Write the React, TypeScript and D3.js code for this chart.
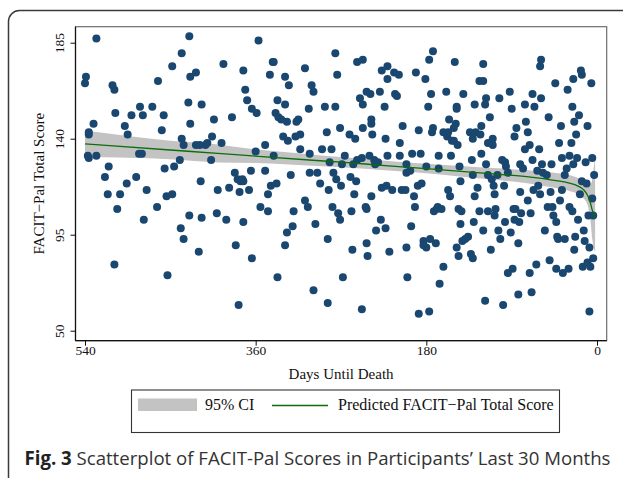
import React, { useEffect, useRef } from 'react';
import * as d3 from 'd3';

const width = 623;
const height = 478;
const plot = { left: 75.5, top: 26.7, right: 606.7, bottom: 340.7 };

const serif = '"Liberation Serif", "Times New Roman", serif';

const xTicks = [540, 360, 180, 0];
const yTicks = [50, 95, 140, 185];

// [days until death, FACIT-Pal total score]
const participants: [number, number][] = [
  [540,166],[539,169],[536,142],[536,143],[537,132],[536,131],[531,147],[528,187],[528,132],[519,122],
  [516,114],[515,127],[511,165],[509,163],[508,152],[509,81],[506,107],[503,114],[498,146],[495,142],
  [496,119],[491,151],[486,122],[483,133],[482,155],[480,133],[479,151],[478,102],[475,116],[469,155],
  [464,108],[463,167],[459,144],[457,151],[456,126],[454,113],[453,76],[448,114],[448,174],[446,127],
  [440,130],[439,98],[438,180],[438,140],[436,137],[436,93],[431,157],[430,188],[429,169],[430,104],
  [429,147],[423,171],[423,137],[420,87],[419,137],[418,120],[417,103],[417,156],[413,137],[411,138],
  [407,130],[406,141],[404,149],[400,116],[401,105],[396,138],[394,175],[391,102],[388,117],[385,150],
  [382,124],[381,90],[379,121],[378,62],[377,115],[376,120],[374,121],[373,172],[373,120],[373,101],
  [371,163],[369,158],[367,116],[365,125],[364,84],[364,154],[359,152],[357,186],[360,134],[355,108],
  [350,137],[350,125],[347,114],[347,106],[345,170],[344,118],[342,176],[341,176],[341,132],[339,152],
  [338,119],[337,75],[337,158],[336,150],[333,149],[331,141],[329,169],[329,156],[329,90],[327,96],
  [327,148],[326,139],[325,165],[323,123],[321,99],[320,106],[318,141],[317,148],[315,149],[313,142],
  [313,135],[308,173],[308,111],[305,108],[304,154],[303,124],[303,133],[301,165],[299,69],[299,162],
  [297,100],[295,124],[292,119],[290,135],[287,155],[285,143],[284,93],[284,63],[283,116],[282,129],
  [280,135],[279,108],[278,124],[276,180],[276,155],[275,121],[274,170],[273,105],[271,102],[271,145],
  [270,118],[269,128],[268,75],[266,132],[261,142],[260,122],[259,106],[258,88],[257,128],[256,114],
  [255,140],[254,120],[253,176],[253,130],[250,159],[248,60],[248,131],[247,177],[247,156],[247,145],
  [244,108],[243,91],[243,162],[243,107],[242,85],[240,132],[239,161],[238,113],[238,147],[238,149],
  [237,142],[235,130],[234,128],[233,97],[231,129],[229,162],[228,102],[227,172],[227,117],[224,155],
  [223,98],[223,140],[222,118],[221,132],[221,174],[221,168],[219,87],[216,116],[214,171],[213,161],
  [211,160],[209,170],[208,138],[208,132],[206,116],[205,146],[202,116],[201,128],[201,124],[201,89],
  [200,75],[197,125],[196,99],[195,133],[193,113],[192,108],[191,171],[189,118],[188,144],[188,58],
  [186,133],[185,119],[183,92],[183,90],[181,168],[180,127],[180,89],[178,155],[177,59],[177,177],
  [176,93],[175,161],[174,143],[173,145],[173,181],[172,106],[170,91],[169,107],[168,108],[167,126],
  [167,132],[166,72],[164,107],[162,143],[162,80],[159,162],[158,141],[157,143],[157,116],[156,149],
  [155,113],[154,132],[153,139],[151,139],[151,145],[150,176],[149,147],[148,155],[148,154],[148,89],
  [147,137],[146,107],[146,85],[145,127],[144,120],[143,106],[144,100],[142,92],[141,161],[139,93],
  [136,94],[134,143],[133,86],[132,130],[131,84],[131,123],[131,140],[130,101],[129,156],[129,113],
  [128,143],[126,117],[124,167],[124,106],[123,142],[122,146],[122,133],[120,97],[120,167],[120,175],
  [118,156],[118,64],[117,128],[117,159],[115,106],[115,138],[115,123],[113,150],[112,88],[111,121],
  [110,140],[110,137],[109,118],[108,114],[108,104],[107,107],[105,123],[104,97],[103,159],[102,93],
  [99,62],[100,130],[98,118],[97,129],[97,101],[96,127],[94,124],[94,77],[92,162],[91,96],
  [90,154],[89,79],[88,107],[87,141],[87,102],[86,107],[85,145],[83,91],[83,67],[82,101],
  [81,128],[81,115],[80,105],[78,126],[76,156],[76,135],[75,148],[73,143],[73,111],[71,137],
  [71,77],[70,105],[69,68],[68,130],[68,161],[67,116],[66,155],[64,81],[63,125],[62,118],
  [61,135],[60,174],[60,114],[59,177],[59,159],[58,128],[57,124],[55,97],[53,123],[52,108],
  [51,150],[50,83],[49,115],[48,128],[47,108],[46,104],[44,166],[43,101],[43,79],[42,94],
  [41,93],[40,138],[39,111],[38,146],[37,131],[37,116],[36,77],[34,93],[34,123],[32,126],
  [31,163],[30,79],[29,132],[29,108],[27,138],[26,106],[26,155],[25,168],[25,128],[24,148],
  [24,88],[23,94],[22,142],[21,131],[20,102],[19,151],[18,114],[17,172],[16,170],[16,120],
  [15,80],[14,97],[13,92],[12,129],[11,119],[10,82],[10,146],[9,104],[8,59],[8,89],
  [7,80],[6,166],[5,131],[5,112],[4,104],[4,84],[3,123],
];

// predicted score and 95% CI
const fitDays = [540, 450, 400, 360, 300, 270, 220, 180, 140, 100, 70, 45, 30, 20, 14, 10, 7, 5, 3, 2];
const fitScore = [137.6, 134.7, 133.1, 131.8, 129.9, 129.0, 127.3, 126.0, 124.6, 123.2, 122.0, 120.5, 119.3, 117.8, 116.0, 113.5, 110.0, 106.5, 104.0, 103.0];
const ciLow = [131.4, 130.4, 128.9, 128.6, 127.3, 126.6, 125.1, 123.8, 122.1, 120.4, 118.9, 117.0, 115.6, 114.0, 112.0, 109.0, 102.0, 93.0, 88.0, 87.0];
const ciHigh = [143.8, 139.0, 137.3, 135.0, 132.5, 131.4, 129.5, 128.2, 127.1, 126.0, 125.1, 124.0, 123.0, 121.6, 120.0, 118.5, 118.5, 121.0, 128.0, 131.0];

type FitRow = { day: number; fit: number; lo: number; hi: number };

function App() {
  const svgRef = useRef<SVGSVGElement>(null);

  useEffect(() => {
    const svg = d3.select(svgRef.current);
    svg.selectAll('*').remove();

    const x = d3.scaleLinear().domain([540, 0]).range([85, 597]);
    const y = d3.scaleLinear().domain([50, 185]).range([330.7, 42.7]);

    // outer card border
    svg
      .append('rect')
      .attr('x', 8.5)
      .attr('y', 10.5)
      .attr('width', 660)
      .attr('height', 500)
      .attr('rx', 11)
      .attr('fill', 'none')
      .attr('stroke', '#3a3a3a')
      .attr('stroke-width', 1.5);

    svg
      .append('clipPath')
      .attr('id', 'plotclip')
      .append('rect')
      .attr('x', plot.left)
      .attr('y', plot.top)
      .attr('width', plot.right - plot.left)
      .attr('height', plot.bottom - plot.top);

    const fit: FitRow[] = fitDays.map((d, i) => ({ day: d, fit: fitScore[i], lo: ciLow[i], hi: ciHigh[i] }));

    const g = svg.append('g').attr('clip-path', 'url(#plotclip)');

    // CI band
    g.append('path')
      .datum(fit)
      .attr(
        'd',
        d3
          .area<FitRow>()
          .x((d) => x(d.day))
          .y0((d) => y(d.lo))
          .y1((d) => y(d.hi))
          .curve(d3.curveMonotoneX)
      )
      .attr('fill', '#c3c3c3');

    // scatter
    g.selectAll('circle')
      .data(participants)
      .join('circle')
      .attr('cx', (d) => x(d[0]))
      .attr('cy', (d) => y(d[1]))
      .attr('r', 4)
      .attr('fill', '#1a476f');

    // predicted line
    g.append('path')
      .datum(fit)
      .attr(
        'd',
        d3
          .line<FitRow>()
          .x((d) => x(d.day))
          .y((d) => y(d.fit))
          .curve(d3.curveMonotoneX)
      )
      .attr('fill', 'none')
      .attr('stroke', '#0b6e0b')
      .attr('stroke-width', 1.3);

    // plot frame
    svg
      .append('rect')
      .attr('x', plot.left)
      .attr('y', plot.top)
      .attr('width', plot.right - plot.left)
      .attr('height', plot.bottom - plot.top)
      .attr('fill', 'none')
      .attr('stroke', '#6e6e6e')
      .attr('stroke-width', 1.2);

    // y axis
    const yAxis = svg
      .append('g')
      .attr('transform', `translate(${plot.left},0)`)
      .call(d3.axisLeft(y).tickValues(yTicks).tickSize(5).tickSizeOuter(0).tickFormat(d3.format('d')));
    yAxis.select('.domain').remove();
    yAxis.append('line').attr('y1', plot.top).attr('y2', plot.bottom).attr('stroke', '#111').attr('stroke-width', 1.2);
    yAxis.attr('font-family', serif).attr('font-size', 13.5).attr('color', '#111');
    yAxis
      .selectAll('.tick text')
      .attr('transform', 'rotate(-90)')
      .attr('x', 0)
      .attr('y', -11.5)
      .attr('dy', null)
      .attr('text-anchor', 'middle')
      .attr('fill', '#111');

    // x axis
    const xAxis = svg
      .append('g')
      .attr('transform', `translate(0,${plot.bottom})`)
      .call(d3.axisBottom(x).tickValues(xTicks).tickSize(5).tickSizeOuter(0).tickFormat(d3.format('d')));
    xAxis.select('.domain').remove();
    xAxis.append('line').attr('x1', plot.left).attr('x2', plot.right).attr('stroke', '#111').attr('stroke-width', 1.2);
    xAxis.attr('font-family', serif).attr('font-size', 13.5).attr('color', '#111');
    xAxis.selectAll('.tick text').attr('y', 5.2).attr('fill', '#111');

    // axis titles
    svg
      .append('text')
      .attr('transform', `translate(44,${(plot.top + plot.bottom) / 2}) rotate(-90)`)
      .attr('text-anchor', 'middle')
      .attr('font-family', serif)
      .attr('font-size', 15)
      .attr('fill', '#111')
      .text('FACIT\u2212Pal Total Score');

    svg
      .append('text')
      .attr('x', (plot.left + plot.right) / 2)
      .attr('y', 378.5)
      .attr('text-anchor', 'middle')
      .attr('font-family', serif)
      .attr('font-size', 15)
      .attr('fill', '#111')
      .text('Days Until Death');

    // legend
    const legend = svg.append('g');
    legend
      .append('rect')
      .attr('x', 131.5)
      .attr('y', 390)
      .attr('width', 428)
      .attr('height', 42.5)
      .attr('fill', '#fff')
      .attr('stroke', '#333')
      .attr('stroke-width', 1.1);
    legend.append('rect').attr('x', 138).attr('y', 398.5).attr('width', 59).attr('height', 12.5).attr('fill', '#c3c3c3');
    legend
      .append('text')
      .attr('x', 205)
      .attr('y', 410)
      .attr('font-family', serif)
      .attr('font-size', 16)
      .attr('fill', '#111')
      .text('95% CI');
    legend
      .append('line')
      .attr('x1', 272)
      .attr('x2', 328)
      .attr('y1', 405.5)
      .attr('y2', 405.5)
      .attr('stroke', '#0b6e0b')
      .attr('stroke-width', 1.3);
    legend
      .append('text')
      .attr('x', 338)
      .attr('y', 410)
      .attr('font-family', serif)
      .attr('font-size', 16)
      .attr('fill', '#111')
      .text('Predicted FACIT\u2212Pal Total Score');

    // caption
    const caption = svg
      .append('text')
      .attr('x', 24.5)
      .attr('y', 465)
      .attr('font-family', '"Open Sans", "Noto Sans", sans-serif')
      .attr('font-size', 19)
      .attr('fill', '#333')
      .attr('textLength', 586)
      .attr('lengthAdjust', 'spacingAndGlyphs');
    caption.append('tspan').attr('font-weight', 'bold').attr('fill', '#222').text('Fig. 3');
    caption.append('tspan').text(' Scatterplot of FACIT-Pal Scores in Participants\u2019 Last 30 Months');
  }, []);

  return (
    <svg
      ref={svgRef}
      width={width}
      height={height}
      style={{ position: 'absolute', left: 0, top: 0, background: '#fff' }}
    />
  );
}

export default App;
